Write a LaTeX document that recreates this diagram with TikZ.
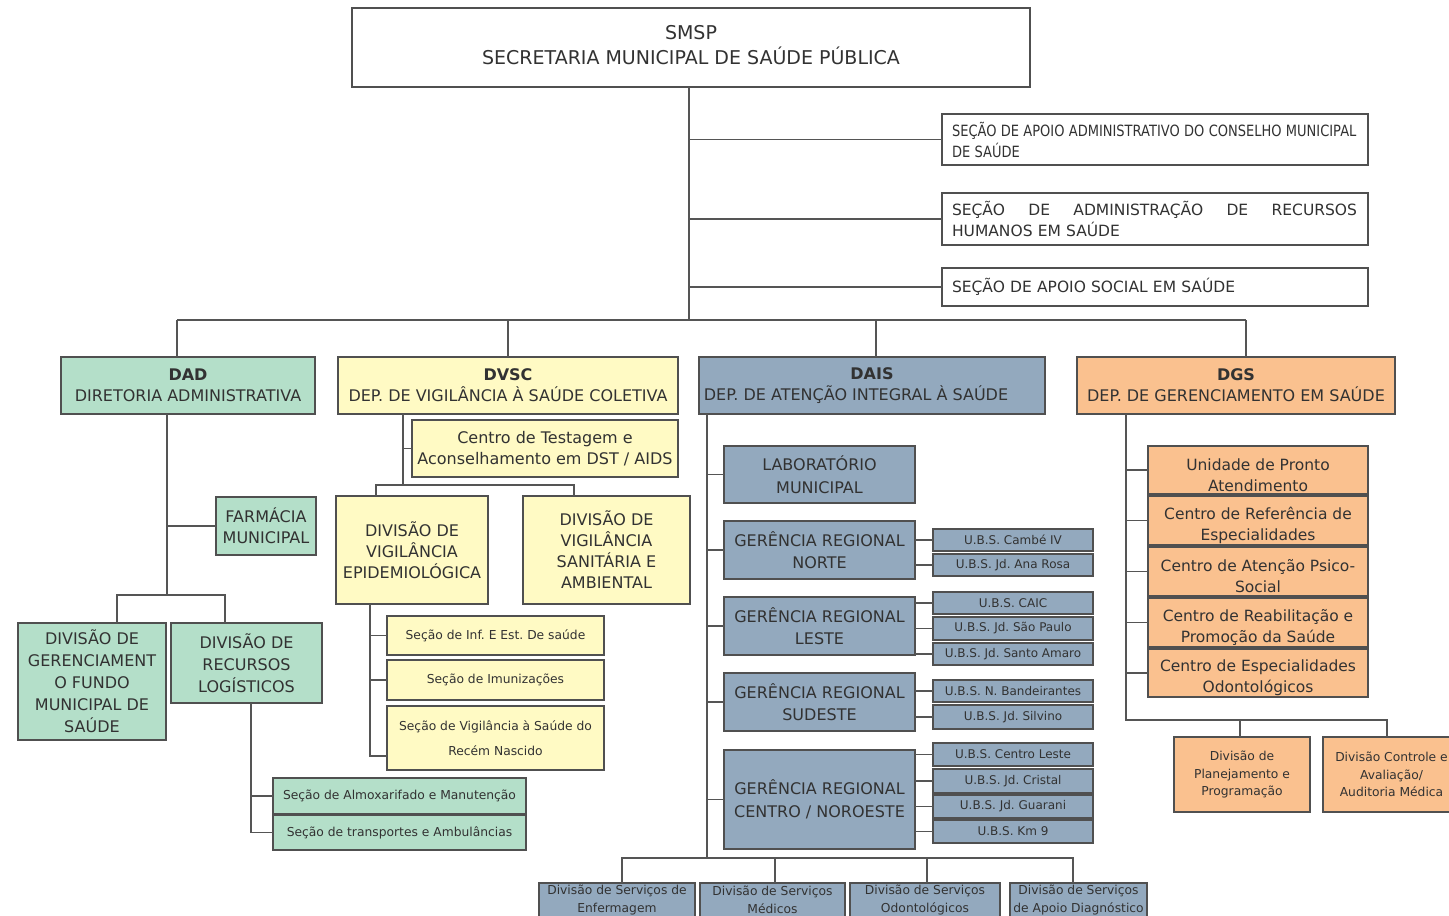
\documentclass[tikz,border=0pt]{standalone}
\usepackage{fontspec}
\setmainfont{DejaVu Sans}
\usepackage{graphicx}
\definecolor{grn}{RGB}{180,223,201}
\definecolor{yel}{RGB}{255,250,196}
\definecolor{blu}{RGB}{147,169,190}
\definecolor{org}{RGB}{250,193,143}
\definecolor{bord}{RGB}{80,80,80}
\definecolor{lin}{RGB}{85,85,85}
\definecolor{txt}{RGB}{50,50,50}
\newcommand\fsA{\fontsize{19}{25}\selectfont}
\newcommand\fsB{\fontsize{16}{21}\selectfont}
\newcommand\fsG{\fontsize{16}{22.5}\selectfont}
\newcommand\fsD{\fontsize{15.5}{21}\selectfont}
\newcommand\fsS{\fontsize{12.3}{25}\selectfont}
\newcommand\fsU{\fontsize{12}{14}\selectfont}
\newcommand\fsE{\fontsize{12.3}{17.5}\selectfont}
\newcommand\dn{\rule{0pt}{22pt}}
\tikzset{
  conn/.style={draw=lin, line width=1.3pt},
  base/.style={draw=bord, line width=1.3pt, outer sep=0pt, inner sep=1pt, align=center, text=txt, font=\fsB},
  wbox/.style={base, fill=white},
  gbox/.style={base, fill=grn},
  ybox/.style={base, fill=yel},
  bbox/.style={base, fill=blu},
  obox/.style={base, fill=org},
}
\newcommand\bx[7]{\node[#6,minimum width={(#4-#2)*1pt},minimum height={(#5-#3)*1pt}] (#1) at ({(#2+#4)/2},{(#3+#5)/2}) {#7};}
\begin{document}
\frenchspacing
\begin{tikzpicture}[x=1pt,y=-1pt]
\useasboundingbox (0,0) rectangle (1449,916);
\clip (0,0) rectangle (1449,916);
% ---------- top ----------
\bx{smsp}{352}{8}{1030}{87}{wbox,font=\fsA}{SMSP\\SECRETARIA MUNICIPAL DE SAÚDE PÚBLICA\rule[-6pt]{0pt}{6pt}}
\bx{s1}{942}{114}{1368}{165}{wbox,font=\fsD,text width=406pt,align=left}{\scalebox{0.84}[1]{SEÇÃO DE APOIO ADMINISTRATIVO DO CONSELHO MUNICIPAL}\\\scalebox{0.84}[1]{DE SAÚDE}}
\bx{s2}{942}{193}{1368}{245}{wbox,font=\fsD,text width=406pt,align=left}{\makebox[405pt][s]{SEÇÃO\hfill DE\hfill ADMINISTRAÇÃO\hfill DE\hfill RECURSOS}\\HUMANOS EM SAÚDE}
\bx{s3}{942}{268}{1368}{306}{wbox,font=\fsD,text width=406pt,align=left}{SEÇÃO DE APOIO SOCIAL EM SAÚDE}
% ---------- departments ----------
\bx{dad}{61}{357}{315}{414}{gbox}{\textbf{DAD}\\DIRETORIA ADMINISTRATIVA}
\bx{dvsc}{338}{357}{678}{414}{ybox}{\textbf{DVSC}\\DEP. DE VIGILÂNCIA À SAÚDE COLETIVA}
\bx{dais}{699}{357}{1045}{414}{bbox}{\textbf{DAIS}\\DEP. DE ATENÇÃO INTEGRAL À SAÚDE\hspace*{32pt}}
\bx{dgs}{1077}{357}{1395}{414}{obox}{\textbf{DGS}\\DEP. DE GERENCIAMENTO EM SAÚDE}
% ---------- DAD ----------
\bx{farm}{216}{497}{316}{555}{gbox}{FARMÁCIA\\MUNICIPAL}
\bx{gerf}{18}{623}{166}{740}{gbox,font=\fontsize{16}{22}\selectfont}{DIVISÃO DE\\GERENCIAMENT\\O FUNDO\\MUNICIPAL DE\\SAÚDE}
\bx{reclog}{171}{623}{322}{703}{gbox,font=\fontsize{16}{22}\selectfont}{DIVISÃO DE\\RECURSOS\\LOGÍSTICOS}
\bx{almox}{273}{778}{526}{814}{gbox,font=\fsS}{Seção de Almoxarifado e Manutenção}
\bx{transp}{273}{815}{526}{850}{gbox,font=\fsS}{Seção de transportes e Ambulâncias}
% ---------- DVSC ----------
\bx{ctest}{412}{420}{678}{477}{ybox}{Centro de Testagem e\\Aconselhamento em DST / AIDS}
\bx{epi}{336}{496}{488}{604}{ybox}{DIVISÃO DE\\VIGILÂNCIA\\EPIDEMIOLÓGICA}
\bx{san}{523}{496}{690}{604}{ybox}{DIVISÃO DE\\VIGILÂNCIA\\SANITÁRIA E\\AMBIENTAL}
\bx{sinf}{387}{616}{604}{655}{ybox,font=\fsS}{Seção de Inf. E Est. De saúde}
\bx{simun}{387}{660}{604}{700}{ybox,font=\fsS}{Seção de Imunizações}
\bx{svig}{387}{706}{604}{770}{ybox,font=\fsS}{Seção de Vigilância à Saúde do\\Recém Nascido}
% ---------- DAIS ----------
\bx{lab}{724}{446}{915}{503}{bbox,font=\fsG}{LABORATÓRIO\\MUNICIPAL}
\bx{norte}{724}{521}{915}{579}{bbox,font=\fsG}{GERÊNCIA REGIONAL\\NORTE}
\bx{leste}{724}{597}{915}{655}{bbox,font=\fsG}{GERÊNCIA REGIONAL\\LESTE}
\bx{sudeste}{724}{673}{915}{731}{bbox,font=\fsG}{GERÊNCIA REGIONAL\\SUDESTE}
\bx{centro}{724}{750}{915}{849}{bbox,font=\fsG}{GERÊNCIA REGIONAL\\CENTRO / NOROESTE}
\bx{u1}{933}{529}{1093}{551}{bbox,font=\fsU}{U.B.S. Cambé IV}
\bx{u2}{933}{554}{1093}{576}{bbox,font=\fsU}{U.B.S. Jd. Ana Rosa}
\bx{u3}{933}{592}{1093}{614}{bbox,font=\fsU}{U.B.S. CAIC}
\bx{u4}{933}{617}{1093}{640}{bbox,font=\fsU}{U.B.S. Jd. São Paulo}
\bx{u5}{933}{643}{1093}{665}{bbox,font=\fsU}{U.B.S. Jd. Santo Amaro}
\bx{u6}{933}{680}{1093}{702}{bbox,font=\fsU}{U.B.S. N. Bandeirantes}
\bx{u7}{933}{705}{1093}{729}{bbox,font=\fsU}{U.B.S. Jd. Silvino}
\bx{u8}{933}{743}{1093}{766}{bbox,font=\fsU}{U.B.S. Centro Leste}
\bx{u9}{933}{769}{1093}{793}{bbox,font=\fsU}{U.B.S. Jd. Cristal}
\bx{u10}{933}{795}{1093}{818}{bbox,font=\fsU}{U.B.S. Jd. Guarani}
\bx{u11}{933}{820}{1093}{843}{bbox,font=\fsU}{U.B.S. Km 9}
\bx{enf}{539}{883}{695}{917}{bbox,font=\fsE}{Divisão de Serviços de\\Enfermagem}
\bx{med}{700}{883}{845}{917}{bbox,font=\fsE}{Divisão de Serviços\\Médicos}
\bx{odo}{850}{883}{1000}{917}{bbox,font=\fsE}{Divisão de Serviços\\Odontológicos}
\bx{apo}{1010}{883}{1147}{917}{bbox,font=\fsE}{Divisão de Serviços\\de Apoio Diagnóstico}
% ---------- DGS ----------
\bx{upa}{1148}{446}{1368}{494}{obox,font=\fsD}{\dn Unidade de Pronto\\Atendimento}
\bx{cre}{1148}{496}{1368}{545}{obox,font=\fsD}{\dn Centro de Referência de\\Especialidades}
\bx{caps}{1148}{547}{1368}{596}{obox,font=\fsD}{\dn Centro de Atenção Psico-\\Social}
\bx{crps}{1148}{598}{1368}{647}{obox,font=\fsD}{\dn Centro de Reabilitação e\\Promoção da Saúde}
\bx{ceo}{1148}{649}{1368}{697}{obox,font=\fsD}{\dn Centro de Especialidades\\Odontológicos}
\bx{plan}{1174}{737}{1310}{812}{obox,font=\fsE}{Divisão de\\Planejamento e\\Programação}
\bx{ctrl}{1323}{737}{1460}{812}{obox,font=\fsE}{Divisão Controle e\\Avaliação/\\Auditoria Médica}
% ---------- connectors: top ----------
\coordinate (top) at ([xshift=-2pt]smsp.south);
\coordinate (hbL) at (177,320);
\coordinate (hbR) at (1246,320);
\draw[conn] (top) -- (top |- hbL);
\foreach \n in {s1,s2,s3} \draw[conn] (top |- \n.west) -- (\n.west);
\draw[conn] (hbL) -- (hbR);
\draw[conn] (hbL) -- (hbL |- dad.north);
\draw[conn] (dvsc.north) -- (dvsc.north |- hbL);
\draw[conn] ([xshift=4pt]dais.north) -- ([xshift=4pt]dais.north |- hbL);
\draw[conn] (hbR) -- (hbR |- dgs.north);
% ---------- DAD ----------
\coordinate (dadV) at ([xshift=-21pt]dad.south);
\coordinate (dadB) at (167,595);
\draw[conn] (dadV) -- (dadB);
\draw[conn] (farm.west) -- (farm.west -| dadV);
\draw[conn] ([xshift=25pt]gerf.north) |- (dadB) -| ([xshift=-21.5pt]reclog.north);
\draw[conn] ([xshift=4.5pt]reclog.south) |- (almox.west);
\draw[conn] ([xshift=4.5pt]reclog.south) |- (transp.west);
% ---------- DVSC ----------
\coordinate (dvV) at ([xshift=-105pt]dvsc.south);
\coordinate (dvB) at (403,485);
\draw[conn] (dvV) -- (dvB);
\draw[conn] (ctest.west) -- (ctest.west -| dvV);
\draw[conn] ([xshift=-36pt]epi.north) |- (dvB) -| ([xshift=-32.5pt]san.north);
\coordinate (epV) at ([xshift=-42pt]epi.south);
\draw[conn] (epV) |- ([yshift=-18pt]svig.west);
\draw[conn] (sinf.west) -- (sinf.west -| epV);
\draw[conn] (simun.west) -- (simun.west -| epV);
% ---------- DAIS ----------
\coordinate (daV) at ([xshift=-165pt]dais.south);
\coordinate (daB) at (707,858);
\draw[conn] (daV) -- (daB);
\foreach \n in {lab,norte,leste,sudeste,centro} \draw[conn] (\n.west) -- (\n.west -| daV);
\foreach \g/\u in {norte/u1,norte/u2,leste/u3,leste/u4,leste/u5,sudeste/u6,sudeste/u7,centro/u8,centro/u9,centro/u10,centro/u11}
  \draw[conn] (\u.west) -- (\u.west -| \g.east);
\draw[conn] ([xshift=5pt]enf.north) |- (daB) -| ([xshift=-5.5pt]apo.north);
\draw[conn] ([xshift=2.5pt]med.north) -- ([xshift=2.5pt]med.north |- daB);
\draw[conn] ([xshift=2pt]odo.north) -- ([xshift=2pt]odo.north |- daB);
% ---------- DGS ----------
\coordinate (dgV) at ([xshift=-110pt]dgs.south);
\coordinate (dgB) at (1126,720);
\draw[conn] (dgV) -- (dgB) -| ([xshift=-2pt]plan.north);
\draw[conn] (dgB) -| ([xshift=-4.5pt]ctrl.north);
\foreach \n in {upa,cre,caps,crps,ceo} \draw[conn] (\n.west) -- (\n.west -| dgV);
\end{tikzpicture}
\end{document}
